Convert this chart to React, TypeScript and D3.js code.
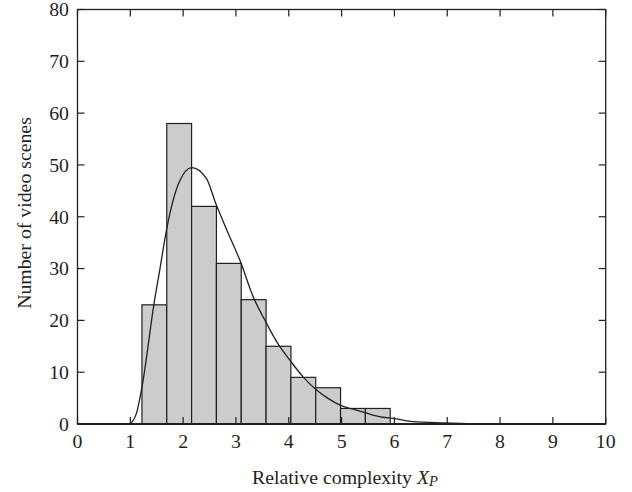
import React from "react";
import * as d3 from "d3";

const binEdges = [1.22, 1.69, 2.16, 2.63, 3.1, 3.57, 4.04, 4.51, 4.98, 5.45, 5.92];
const binCounts = [23, 58, 42, 31, 24, 15, 9, 7, 3, 3];
const curveX = [1.0, 1.12, 1.225, 1.45, 1.56, 1.68, 1.93, 2.165, 2.44, 2.62, 2.82, 3.09, 3.32, 3.57, 3.8, 4.03, 4.27, 4.52, 4.75, 4.98, 5.2, 5.44, 5.78, 5.97, 6.35, 6.92, 7.5, 8.5, 10];
const curveY = [0, 2.2, 7.4, 23.3, 29.9, 37.2, 46.8, 49.5, 47.4, 42.5, 37.6, 31.2, 24.7, 19.6, 15.4, 12.2, 9.1, 6.6, 4.9, 3.6, 2.9, 2.2, 1.3, 1.1, 0.45, 0.2, 0.05, 0, 0];
const xTicks = [0, 1, 2, 3, 4, 5, 6, 7, 8, 9, 10];
const yTicks = [0, 10, 20, 30, 40, 50, 60, 70, 80];

export default function App() {
  const W = 632, H = 492;
  const x = d3.scaleLinear().domain([0, 10]).range([77.5, 605.7]);
  const y = d3.scaleLinear().domain([0, 80]).range([424, 9.5]);
  const ink = "#231f20";
  const font = "'Liberation Serif', 'Times New Roman', serif";
  const fs = 19.8;
  const tl = 7;
  const line = d3
    .line<number>()
    .x((_, i) => x(curveX[i]))
    .y((d) => y(d))
    .curve(d3.curveMonotoneX);
  return (
    <svg width={W} height={H} style={{ position: "absolute", left: 0, top: 0, background: "#fff" }}>
      {binCounts.map((c, i) => (
        <rect
          key={i}
          x={x(binEdges[i])}
          y={y(c)}
          width={x(binEdges[i + 1]) - x(binEdges[i])}
          height={y(0) - y(c)}
          fill="#cccccc"
          stroke={ink}
          strokeWidth={1.2}
        />
      ))}
      <path d={line(curveY) || ""} fill="none" stroke={ink} strokeWidth={1.3} />
      {xTicks.map((t) => (
        <g key={"x" + t}>
          <line x1={x(t)} x2={x(t)} y1={y(0)} y2={y(0) - tl} stroke={ink} strokeWidth={1.2} />
          <line x1={x(t)} x2={x(t)} y1={y(80)} y2={y(80) + tl} stroke={ink} strokeWidth={1.2} />
          <text x={x(t)} y={448} textAnchor="middle" fontFamily={font} fontSize={fs} fill={ink}>
            {t}
          </text>
        </g>
      ))}
      {yTicks.map((t) => (
        <g key={"y" + t}>
          <line x1={x(0)} x2={x(0) + tl} y1={y(t)} y2={y(t)} stroke={ink} strokeWidth={1.2} />
          <line x1={x(10)} x2={x(10) - tl} y1={y(t)} y2={y(t)} stroke={ink} strokeWidth={1.2} />
          <text x={69} y={y(t)} dy="0.35em" textAnchor="end" fontFamily={font} fontSize={fs} fill={ink}>
            {t}
          </text>
        </g>
      ))}
      <rect
        x={x(0)}
        y={y(80)}
        width={x(10) - x(0)}
        height={y(0) - y(80)}
        fill="none"
        stroke={ink}
        strokeWidth={1.3}
      />
      <line x1={x(0)} x2={x(10)} y1={y(0)} y2={y(0)} stroke={ink} strokeWidth={1.8} />
      <text x={345} y={484} textAnchor="middle" fontFamily={font} fontSize={fs} fill={ink}>
        Relative complexity <tspan fontStyle="italic">X</tspan>
        <tspan fontStyle="italic" fontSize={14.5} dy={2}>P</tspan>
      </text>
      <text
        transform={`translate(31,213) rotate(-90)`}
        textAnchor="middle"
        fontFamily={font}
        fontSize={fs}
        fill={ink}
      >
        Number of video scenes
      </text>
    </svg>
  );
}
